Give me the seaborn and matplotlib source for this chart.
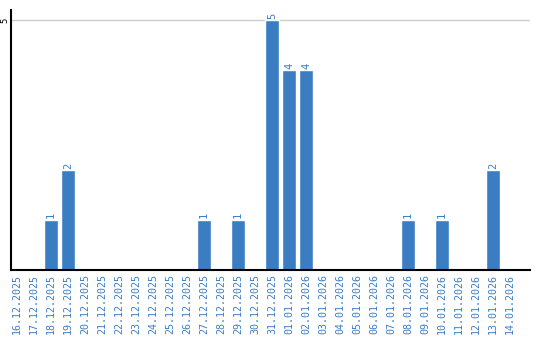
import matplotlib
matplotlib.use("Agg")
import matplotlib.pyplot as plt
import seaborn as sns
import pandas as pd

dates = ["16.12.2025", "17.12.2025", "18.12.2025", "19.12.2025", "20.12.2025",
         "21.12.2025", "22.12.2025", "23.12.2025", "24.12.2025", "25.12.2025",
         "26.12.2025", "27.12.2025", "28.12.2025", "29.12.2025", "30.12.2025",
         "31.12.2025", "01.01.2026", "02.01.2026", "03.01.2026", "04.01.2026",
         "05.01.2026", "06.01.2026", "07.01.2026", "08.01.2026", "09.01.2026",
         "10.01.2026", "11.01.2026", "12.01.2026", "13.01.2026", "14.01.2026"]
counts = [0, 0, 1, 2, 0, 0, 0, 0, 0, 0, 0, 1, 0, 1, 0, 5, 4, 4, 0, 0, 0, 0, 0, 1, 0, 1, 0, 0, 2, 0]

sns.set_theme(style="white")
plt.rcParams['font.family'] = ['DejaVu Sans Mono', 'DejaVu Sans']

blue = "#3b7dc3"
df = pd.DataFrame({"date": dates, "count": counts})

fig = plt.figure(figsize=(5.4, 3.4), dpi=100)
ax = fig.add_axes([11/540, 70/340, 519/540, 260/340])
sns.barplot(data=df, x="date", y="count", color=blue, width=0.82, saturation=1, ax=ax, order=dates)

ax.set_ylim(0, 5.2)
ax.set_xlim(-0.353, 30.18)
ax.set_yticks([5])
ax.set_yticklabels(["5"], rotation=90, va="center", fontsize=6.5, color="black")
ax.yaxis.grid(True, color="#cccccc", linewidth=1)
ax.set_axisbelow(True)
ax.set_xlabel("")
ax.set_ylabel("")
ax.tick_params(axis="x", labelrotation=90, labelsize=7.2, labelcolor=blue, length=0, pad=3)
ax.tick_params(axis="y", length=0, pad=1.5)
for lbl in ax.get_xticklabels():
    lbl.set_va("top")

for s in ["top", "right"]:
    ax.spines[s].set_visible(False)
for s in ["left", "bottom"]:
    ax.spines[s].set_color("black")
    ax.spines[s].set_linewidth(1.5)

for i, v in enumerate(counts):
    if v > 0:
        ax.text(i, v + 0.03, str(v), rotation=90, ha="center", va="bottom", fontsize=7.5, color=blue)

fig.savefig("out.png", dpi=100)
